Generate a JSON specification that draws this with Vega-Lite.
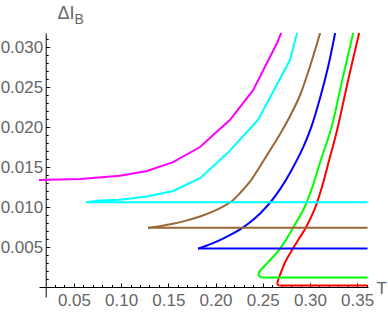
{
  "$schema": "https://vega.github.io/schema/vega-lite/v6.json",
  "width": 329,
  "height": 264,
  "autosize": "none",
  "padding": {"left": 39, "top": 33, "right": 20, "bottom": 22},
  "background": "white",
  "config": {"view": {"stroke": null}, "axis": {"grid": false, "labelFont": "Liberation Sans", "titleFont": "Liberation Sans", "labelFlush": false, "labelOverlap": false}},
  "datasets": {
    "curves": [
      {"s": "brown", "i": 0, "x": 0.1285, "y": 0.0074},
      {"s": "brown", "i": 1, "x": 0.1412, "y": 0.00761},
      {"s": "brown", "i": 2, "x": 0.155, "y": 0.0079},
      {"s": "brown", "i": 3, "x": 0.1698, "y": 0.00833},
      {"s": "brown", "i": 4, "x": 0.1836, "y": 0.00881},
      {"s": "brown", "i": 5, "x": 0.1963, "y": 0.00939},
      {"s": "brown", "i": 6, "x": 0.2069, "y": 0.00999},
      {"s": "brown", "i": 7, "x": 0.2175, "y": 0.01075},
      {"s": "brown", "i": 8, "x": 0.226, "y": 0.01175},
      {"s": "brown", "i": 9, "x": 0.2366, "y": 0.0132},
      {"s": "brown", "i": 10, "x": 0.2472, "y": 0.0151},
      {"s": "brown", "i": 11, "x": 0.2578, "y": 0.0171},
      {"s": "brown", "i": 12, "x": 0.2684, "y": 0.01913},
      {"s": "brown", "i": 13, "x": 0.279, "y": 0.02138},
      {"s": "brown", "i": 14, "x": 0.2896, "y": 0.024},
      {"s": "brown", "i": 15, "x": 0.3002, "y": 0.02763},
      {"s": "brown", "i": 16, "x": 0.3108, "y": 0.03175},
      {"s": "blue", "i": 0, "x": 0.1815, "y": 0.0048},
      {"s": "blue", "i": 1, "x": 0.1889, "y": 0.00509},
      {"s": "blue", "i": 2, "x": 0.1974, "y": 0.00548},
      {"s": "blue", "i": 3, "x": 0.208, "y": 0.00604},
      {"s": "blue", "i": 4, "x": 0.2186, "y": 0.00669},
      {"s": "blue", "i": 5, "x": 0.2281, "y": 0.00736},
      {"s": "blue", "i": 6, "x": 0.2366, "y": 0.00809},
      {"s": "blue", "i": 7, "x": 0.2472, "y": 0.00919},
      {"s": "blue", "i": 8, "x": 0.2578, "y": 0.01054},
      {"s": "blue", "i": 9, "x": 0.2684, "y": 0.01223},
      {"s": "blue", "i": 10, "x": 0.279, "y": 0.01429},
      {"s": "blue", "i": 11, "x": 0.2928, "y": 0.01745},
      {"s": "blue", "i": 12, "x": 0.3013, "y": 0.01995},
      {"s": "blue", "i": 13, "x": 0.3108, "y": 0.02366},
      {"s": "blue", "i": 14, "x": 0.3193, "y": 0.02756},
      {"s": "blue", "i": 15, "x": 0.3267, "y": 0.03175},
      {"s": "green", "i": 0, "x": 0.2493, "y": 0.0012},
      {"s": "green", "i": 1, "x": 0.2466, "y": 0.00135},
      {"s": "green", "i": 2, "x": 0.2455, "y": 0.0016},
      {"s": "green", "i": 3, "x": 0.2459, "y": 0.0018},
      {"s": "green", "i": 4, "x": 0.2557, "y": 0.0031},
      {"s": "green", "i": 5, "x": 0.2657, "y": 0.0044},
      {"s": "green", "i": 6, "x": 0.2742, "y": 0.0058},
      {"s": "green", "i": 7, "x": 0.2822, "y": 0.0074},
      {"s": "green", "i": 8, "x": 0.2944, "y": 0.01},
      {"s": "green", "i": 9, "x": 0.3034, "y": 0.0128},
      {"s": "green", "i": 10, "x": 0.3108, "y": 0.0156},
      {"s": "green", "i": 11, "x": 0.3225, "y": 0.0198},
      {"s": "green", "i": 12, "x": 0.3341, "y": 0.0258},
      {"s": "green", "i": 13, "x": 0.3458, "y": 0.03175},
      {"s": "red", "i": 0, "x": 0.2674, "y": 0.0002},
      {"s": "red", "i": 1, "x": 0.2658, "y": 0.00028},
      {"s": "red", "i": 2, "x": 0.2656, "y": 0.0005},
      {"s": "red", "i": 3, "x": 0.2663, "y": 0.00088},
      {"s": "red", "i": 4, "x": 0.2695, "y": 0.00188},
      {"s": "red", "i": 5, "x": 0.2737, "y": 0.0031},
      {"s": "red", "i": 6, "x": 0.2817, "y": 0.00475},
      {"s": "red", "i": 7, "x": 0.2875, "y": 0.00588},
      {"s": "red", "i": 8, "x": 0.2955, "y": 0.00738},
      {"s": "red", "i": 9, "x": 0.3055, "y": 0.00988},
      {"s": "red", "i": 10, "x": 0.3124, "y": 0.01238},
      {"s": "red", "i": 11, "x": 0.3204, "y": 0.01588},
      {"s": "red", "i": 12, "x": 0.3288, "y": 0.01963},
      {"s": "red", "i": 13, "x": 0.3405, "y": 0.02588},
      {"s": "red", "i": 14, "x": 0.3521, "y": 0.03175}
    ],
    "lines": [
      {"s": "magenta", "i": 0, "x": 0.013, "y": 0.01338},
      {"s": "magenta", "i": 1, "x": 0.0564, "y": 0.0135},
      {"s": "magenta", "i": 2, "x": 0.0988, "y": 0.0139},
      {"s": "magenta", "i": 3, "x": 0.1274, "y": 0.0145},
      {"s": "magenta", "i": 4, "x": 0.155, "y": 0.0156},
      {"s": "magenta", "i": 5, "x": 0.1836, "y": 0.0175},
      {"s": "magenta", "i": 6, "x": 0.2154, "y": 0.0209},
      {"s": "magenta", "i": 7, "x": 0.2398, "y": 0.0246},
      {"s": "magenta", "i": 8, "x": 0.2652, "y": 0.0305},
      {"s": "magenta", "i": 9, "x": 0.2695, "y": 0.03175},
      {"s": "cyan", "i": -1, "x": 0.361, "y": 0.0106},
      {"s": "cyan", "i": 0, "x": 0.0628, "y": 0.0106},
      {"s": "cyan", "i": 1, "x": 0.0776, "y": 0.0108},
      {"s": "cyan", "i": 2, "x": 0.0988, "y": 0.0109},
      {"s": "cyan", "i": 3, "x": 0.1274, "y": 0.0113},
      {"s": "cyan", "i": 4, "x": 0.155, "y": 0.012},
      {"s": "cyan", "i": 5, "x": 0.1836, "y": 0.0136},
      {"s": "cyan", "i": 6, "x": 0.2133, "y": 0.0168},
      {"s": "cyan", "i": 7, "x": 0.2451, "y": 0.0209},
      {"s": "cyan", "i": 8, "x": 0.279, "y": 0.0284},
      {"s": "cyan", "i": 9, "x": 0.2864, "y": 0.03175},
      {"s": "brown", "i": 0, "x": 0.1285, "y": 0.0074},
      {"s": "brown", "i": 1, "x": 0.361, "y": 0.0074},
      {"s": "blue", "i": 0, "x": 0.1815, "y": 0.0048},
      {"s": "blue", "i": 1, "x": 0.361, "y": 0.0048},
      {"s": "green", "i": 0, "x": 0.2493, "y": 0.0012},
      {"s": "green", "i": 1, "x": 0.361, "y": 0.0012},
      {"s": "red", "i": 0, "x": 0.2674, "y": 0.0002},
      {"s": "red", "i": 1, "x": 0.361, "y": 0.0002}
    ]
  },
  "layer": [
    {
      "data": {"name": "curves"},
      "mark": {"type": "line", "strokeWidth": 2, "clip": true, "interpolate": "catmull-rom"},
      "encoding": {
        "x": {"field": "x", "type": "quantitative",
          "scale": {"domain": [0.013, 0.3615], "nice": false, "zero": false},
          "axis": {"orient": "bottom", "offset": -10, "values": [0.05, 0.1, 0.15, 0.2, 0.25, 0.3, 0.35], "format": ".2f",
            "tickSize": -4, "tickColor": "#000", "tickWidth": 1, "domainColor": "#000", "domainWidth": 1,
            "labelPadding": 9, "labelColor": "#666", "labelFontSize": 17,
            "title": "T", "titleX": 337, "titleY": 6, "titleAlign": "left", "titleBaseline": "alphabetic", "titleAngle": 0,
            "titleFontSize": 17, "titleFontWeight": "normal", "titleColor": "#666"}},
        "y": {"field": "y", "type": "quantitative",
          "scale": {"domain": [-0.00125, 0.03175], "nice": false, "zero": false},
          "axis": {"orient": "left", "offset": -6.7, "values": [0.005, 0.01, 0.015, 0.02, 0.025, 0.03], "format": ".3f",
            "tickSize": -4, "tickColor": "#000", "tickWidth": 1, "domainColor": "#000", "domainWidth": 1,
            "labelPadding": 7, "labelColor": "#666", "labelFontSize": 17,
            "title": "ΔI", "titleX": 11.3, "titleY": -15, "titleAlign": "left", "titleBaseline": "alphabetic", "titleAngle": 0,
            "titleFontSize": 18, "titleFontWeight": "normal", "titleColor": "#666"}},
        "color": {"field": "s", "type": "nominal",
          "scale": {"domain": ["magenta", "cyan", "brown", "blue", "green", "red"], "range": ["#ff00ff", "#00ffff", "#996633", "#0000ff", "#00ff00", "#ff0000"]},
          "legend": null},
        "order": {"field": "i", "type": "quantitative"}
      }
    },
    {
      "data": {"name": "lines"},
      "mark": {"type": "line", "strokeWidth": 2, "clip": true},
      "encoding": {
        "x": {"field": "x", "type": "quantitative",
          "axis": {"orient": "bottom", "offset": -10, "values": [0.03, 0.04, 0.06, 0.07, 0.08, 0.09, 0.11, 0.12, 0.13, 0.14, 0.16, 0.17, 0.18, 0.19, 0.21, 0.22, 0.23, 0.24, 0.26, 0.27, 0.28, 0.29, 0.31, 0.32, 0.33, 0.34, 0.36],
            "labels": false, "domain": false, "tickSize": -2.5, "tickColor": "#000", "tickWidth": 1, "title": null}},
        "y": {"field": "y", "type": "quantitative",
          "axis": {"orient": "left", "offset": -6.7, "values": [0.001, 0.002, 0.003, 0.004, 0.006, 0.007, 0.008, 0.009, 0.011, 0.012, 0.013, 0.014, 0.016, 0.017, 0.018, 0.019, 0.021, 0.022, 0.023, 0.024, 0.026, 0.027, 0.028, 0.029, 0.031],
            "labels": false, "domain": false, "tickSize": -2.5, "tickColor": "#000", "tickWidth": 1,
            "title": "B", "titleX": 28.3, "titleY": -10, "titleAlign": "left", "titleBaseline": "alphabetic", "titleAngle": 0,
            "titleFontSize": 14, "titleFontWeight": "normal", "titleColor": "#666"}},
        "color": {"field": "s", "type": "nominal", "legend": null},
        "order": {"field": "i", "type": "quantitative"}
      }
    }
  ],
  "resolve": {"axis": {"x": "independent", "y": "independent"}}
}
